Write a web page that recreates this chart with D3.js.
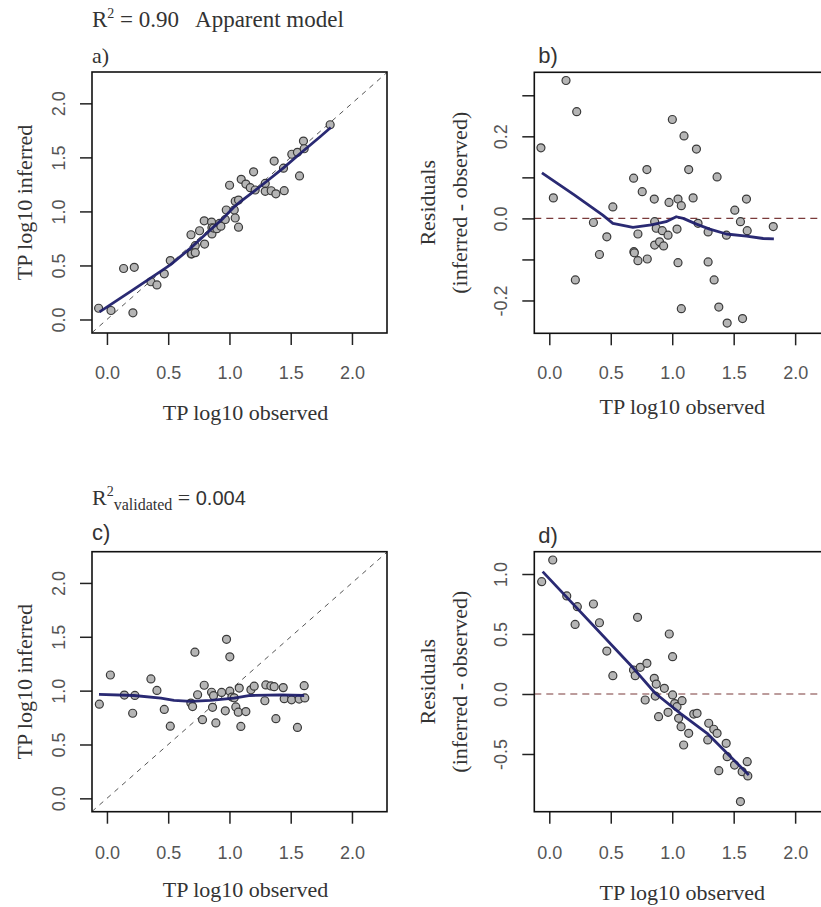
<!DOCTYPE html>
<html><head><meta charset="utf-8">
<script src="https://cdn.jsdelivr.net/npm/d3@7"></script>
<style>
body{margin:0;background:#fff;}
svg{display:block;}
</style></head>
<body>
<svg id="chart" width="821" height="907"></svg>
<script>
// ---------- data: apparent model (panels a, b) ----------
const observedAB = [-0.068,0.033,0.136,0.212,0.223,0.359,0.408,0.468,0.517,0.686,0.688,0.692,0.721,0.721,0.756,0.794,0.797,0.854,0.857,0.857,0.870,0.897,0.919,0.930,0.966,0.974,1.001,1.039,1.047,1.047,1.074,1.074,1.096,1.134,1.170,1.197,1.210,1.292,1.292,1.341,1.365,1.379,1.441,1.447,1.509,1.555,1.572,1.604,1.610,1.822];
const inferredA = [0.104,0.083,0.472,0.062,0.483,0.349,0.320,0.423,0.545,0.784,0.607,0.608,0.683,0.618,0.821,0.913,0.698,0.901,0.849,0.792,0.846,0.840,0.889,0.863,0.925,1.013,1.242,1.013,1.094,0.939,1.105,0.854,1.297,1.253,1.220,1.366,1.198,1.259,1.186,1.191,1.466,1.163,1.400,1.192,1.529,1.547,1.328,1.651,1.580,1.802];
const residualB = [0.172,0.050,0.336,-0.150,0.260,-0.010,-0.088,-0.045,0.028,0.098,-0.081,-0.084,-0.038,-0.103,0.065,0.119,-0.099,0.047,-0.008,-0.065,-0.024,-0.057,-0.030,-0.067,-0.041,0.039,0.241,-0.026,0.047,-0.108,0.031,-0.220,0.201,0.119,0.050,0.169,-0.012,-0.033,-0.106,-0.150,0.101,-0.216,-0.041,-0.255,0.020,-0.008,-0.244,0.047,-0.030,-0.020];
const smoothAX = [-0.06,0.20,0.435,0.517,0.68,0.83,0.95,1.033,1.09,1.197,1.305,1.441,1.604,1.74,1.827];
const smoothAY = [0.07,0.265,0.443,0.505,0.658,0.814,0.938,1.037,1.09,1.183,1.279,1.403,1.561,1.691,1.777];
const smoothBX = [-0.06,0.20,0.435,0.517,0.68,0.83,0.95,1.033,1.09,1.197,1.305,1.441,1.604,1.74,1.827];
const smoothBY = [0.111,0.058,0.008,-0.012,-0.022,-0.016,-0.008,0.004,0.0,-0.014,-0.026,-0.038,-0.043,-0.049,-0.050];

// ---------- data: validated model (panels c, d) ----------
const observedCD = [-0.062,0.028,0.142,0.210,0.228,0.359,0.408,0.468,0.517,0.685,0.699,0.718,0.740,0.780,0.794,0.854,0.862,0.870,0.889,0.936,0.966,0.976,1.003,1.003,1.020,1.039,1.052,1.072,1.080,1.093,1.134,1.175,1.202,1.289,1.297,1.338,1.365,1.379,1.439,1.447,1.507,1.555,1.569,1.610,1.615];
const inferredC = [0.874,1.145,0.959,0.790,0.956,1.109,1.002,0.826,0.670,0.885,0.852,1.357,0.962,0.730,1.050,0.985,0.845,0.953,0.700,0.983,0.813,1.476,1.314,0.995,0.940,0.933,0.849,0.800,1.024,0.668,0.806,1.008,1.041,0.906,1.053,1.044,1.037,0.740,1.028,0.925,0.915,0.658,0.922,1.046,0.932];
const residualD = [0.936,1.117,0.817,0.580,0.728,0.750,0.594,0.358,0.153,0.200,0.153,0.639,0.222,-0.050,0.256,0.131,-0.017,0.083,-0.189,0.047,-0.153,0.500,0.311,-0.008,-0.080,-0.106,-0.203,-0.272,-0.056,-0.425,-0.328,-0.167,-0.161,-0.383,-0.244,-0.294,-0.328,-0.639,-0.411,-0.522,-0.592,-0.897,-0.647,-0.564,-0.683];
const smoothCX = [-0.065,0.22,0.44,0.547,0.683,0.846,1.037,1.17,1.42,1.61];
const smoothCY = [0.965,0.955,0.93,0.91,0.90,0.91,0.93,0.955,0.96,0.955];
const smoothDX = [-0.054,0.685,0.862,1.066,1.284,1.623];
const smoothDY = [1.02,0.214,0.006,-0.161,-0.328,-0.675];

// ---------- ticks ----------
const xTicks = [0,0.5,1.0,1.5,2.0];
const xTickLabels = ["0.0","0.5","1.0","1.5","2.0"];
const yTicksAC = [0,0.5,1.0,1.5,2.0];
const yTickLabelsAC = ["0.0","0.5","1.0","1.5","2.0"];
const yTicksB = [-0.2,-0.1,0,0.1,0.2,0.3];
const yTickLabelsB = ["-0.2","","0.0","","0.2",""];
const yTicksD = [-0.5,0,0.5,1.0];
const yTickLabelsD = ["-0.5","0.0","0.5","1.0"];

const xLabel = "TP log10 observed";
const yLabelAC = "TP log10 inferred";
const yLabelBD = ["Residuals","(inferred - observed)"];

// ---------- drawing ----------
const svg = d3.select("#chart");
const SERIF = "'Liberation Serif','Times New Roman',serif";
const SANS = "'Liberation Sans',Arial,sans-serif";
const ptFill = "#b5b5b5", ptStroke = "#3a3a3a", lineCol = "#1f1f6b";

function panel(o){
  const g = svg.append("g").attr("transform",`translate(${o.left},${o.top})`);
  const x = d3.scaleLinear().domain([-0.122,2.286]).range([0,o.w]);
  const y = d3.scaleLinear().domain(o.yDom).range([o.h,0]);

  const ax = g.append("g").attr("transform",`translate(0,${o.h})`)
    .call(d3.axisBottom(x).tickValues(xTicks).tickSize(12)
      .tickFormat((d,i)=>xTickLabels[i]));
  ax.select(".domain").remove();
  ax.selectAll("line").attr("stroke","#222").attr("stroke-width",1.5);
  ax.selectAll("text").attr("y",o.xTickY).attr("dy",null)
    .attr("font-family",SANS).attr("font-size",18).attr("fill","#555");

  const ay = g.append("g")
    .call(d3.axisLeft(y).tickValues(o.yTicks).tickSize(12)
      .tickFormat((d,i)=>o.yLabels[i]));
  ay.select(".domain").remove();
  ay.selectAll("line").attr("stroke","#222").attr("stroke-width",1.5);
  ay.selectAll("text").attr("x",null).attr("dy",null)
    .attr("text-anchor","middle")
    .attr("transform",`translate(${o.yTickX},0) rotate(-90)`)
    .attr("font-family",SANS).attr("font-size",18).attr("fill","#555");

  const cid = "clip"+o.id;
  svg.append("clipPath").attr("id",cid).append("rect").attr("width",o.w).attr("height",o.h);
  const pg = g.append("g").attr("clip-path",`url(#${cid})`);

  if(o.diag){
    const dom = x.domain();
    pg.append("line").attr("x1",x(dom[0])).attr("y1",y(dom[0]))
      .attr("x2",x(dom[1])).attr("y2",y(dom[1]))
      .attr("stroke","#555").attr("stroke-width",1).attr("stroke-dasharray","5,5");
  } else {
    pg.append("line").attr("x1",0).attr("x2",o.w).attr("y1",y(0)).attr("y2",y(0))
      .attr("stroke","#7a3a3a").attr("stroke-width",1.2).attr("stroke-dasharray","7,5");
  }

  pg.selectAll("circle.pt").data(o.xs).join("circle").attr("class","pt")
    .attr("cx",(d)=>x(d)).attr("cy",(d,i)=>y(o.ys[i])).attr("r",4)
    .attr("fill",ptFill).attr("stroke",ptStroke).attr("stroke-width",1.2);

  const sm = o.sx.map((v,i)=>[v,o.sy[i]]);
  pg.append("path").datum(sm)
    .attr("d",d3.line().x(d=>x(d[0])).y(d=>y(d[1])))
    .attr("fill","none").attr("stroke",lineCol).attr("stroke-width",2.8)
    .attr("stroke-linejoin","round").attr("opacity",0.95);

  g.append("rect").attr("width",o.w).attr("height",o.h)
    .attr("fill","none").attr("stroke","#111").attr("stroke-width",1.6);

  g.append("text").attr("x",o.w/2 + o.xLabDx).attr("y",o.h + o.xLabY)
    .attr("text-anchor","middle").attr("font-family",SERIF).attr("font-size",22)
    .attr("fill","#333").text(xLabel);

  o.yLab.forEach((t,i)=>{
    g.append("text").attr("text-anchor","middle")
      .attr("transform",`translate(${o.yLabX[i]},${o.h/2}) rotate(-90)`)
      .attr("font-family",SERIF).attr("font-size",22).attr("fill","#333").text(t);
  });

  g.append("text").attr("x",o.tagX).attr("y",o.tagY)
    .attr("font-family",o.tagFont).attr("font-size",22).attr("fill","#333").text(o.tag);
}

panel({id:"a",left:92,top:72,w:295,h:261,yDom:[-0.125,2.29],
  yTicks:yTicksAC,yLabels:yTickLabelsAC,xs:observedAB,ys:inferredA,sx:smoothAX,sy:smoothAY,
  diag:true,xTickY:46,yTickX:-27,xLabY:87,xLabDx:6,yLab:[yLabelAC],yLabX:[-60],
  tag:"a)",tagFont:SERIF,tagX:0,tagY:-9});
panel({id:"b",left:534.3,top:72.3,w:296,h:261,yDom:[-0.280,0.356],
  yTicks:yTicksB,yLabels:yTickLabelsB,xs:observedAB,ys:residualB,sx:smoothBX,sy:smoothBY,
  diag:false,xTickY:46,yTickX:-27,xLabY:81,xLabDx:0,yLab:yLabelBD,yLabX:[-92,-60].map(v=>v-7),
  tag:"b)",tagFont:SANS,tagX:4,tagY:-9});
panel({id:"c",left:92,top:551.7,w:295,h:260,yDom:[-0.124,2.29],
  yTicks:yTicksAC,yLabels:yTickLabelsAC,xs:observedCD,ys:inferredC,sx:smoothCX,sy:smoothCY,
  diag:true,xTickY:47,yTickX:-27,xLabY:85,xLabDx:6,yLab:[yLabelAC],yLabX:[-60],
  tag:"c)",tagFont:SANS,tagX:0,tagY:-12});
panel({id:"d",left:534.3,top:551.7,w:296,h:260,yDom:[-0.981,1.186],
  yTicks:yTicksD,yLabels:yTickLabelsD,xs:observedCD,ys:residualD,sx:smoothDX,sy:smoothDY,
  diag:false,xTickY:47,yTickX:-27,xLabY:88,xLabDx:0,yLab:yLabelBD,yLabX:[-92,-60].map(v=>v-7),
  tag:"d)",tagFont:SANS,tagX:4,tagY:-9});

const t1 = svg.append("text").attr("x",92).attr("y",27)
  .attr("font-family",SERIF).attr("font-size",23).attr("fill","#333").attr("style","white-space:pre");
t1.append("tspan").text("R");
t1.append("tspan").attr("font-size",14).attr("dy",-9).text("2");
t1.append("tspan").attr("dy",9).text(" = 0.90   Apparent model");

const t2 = svg.append("text").attr("x",92).attr("y",505)
  .attr("font-family",SERIF).attr("font-size",22).attr("fill","#333").attr("style","white-space:pre");
t2.append("tspan").text("R");
t2.append("tspan").attr("font-size",14).attr("dy",-9).text("2");
t2.append("tspan").attr("font-size",16).attr("dy",14).text("validated");
t2.append("tspan").attr("dy",-5).text(" = ");
t2.append("tspan").attr("font-family",SANS).attr("font-size",20).text("0.004");
</script>
</body></html>
